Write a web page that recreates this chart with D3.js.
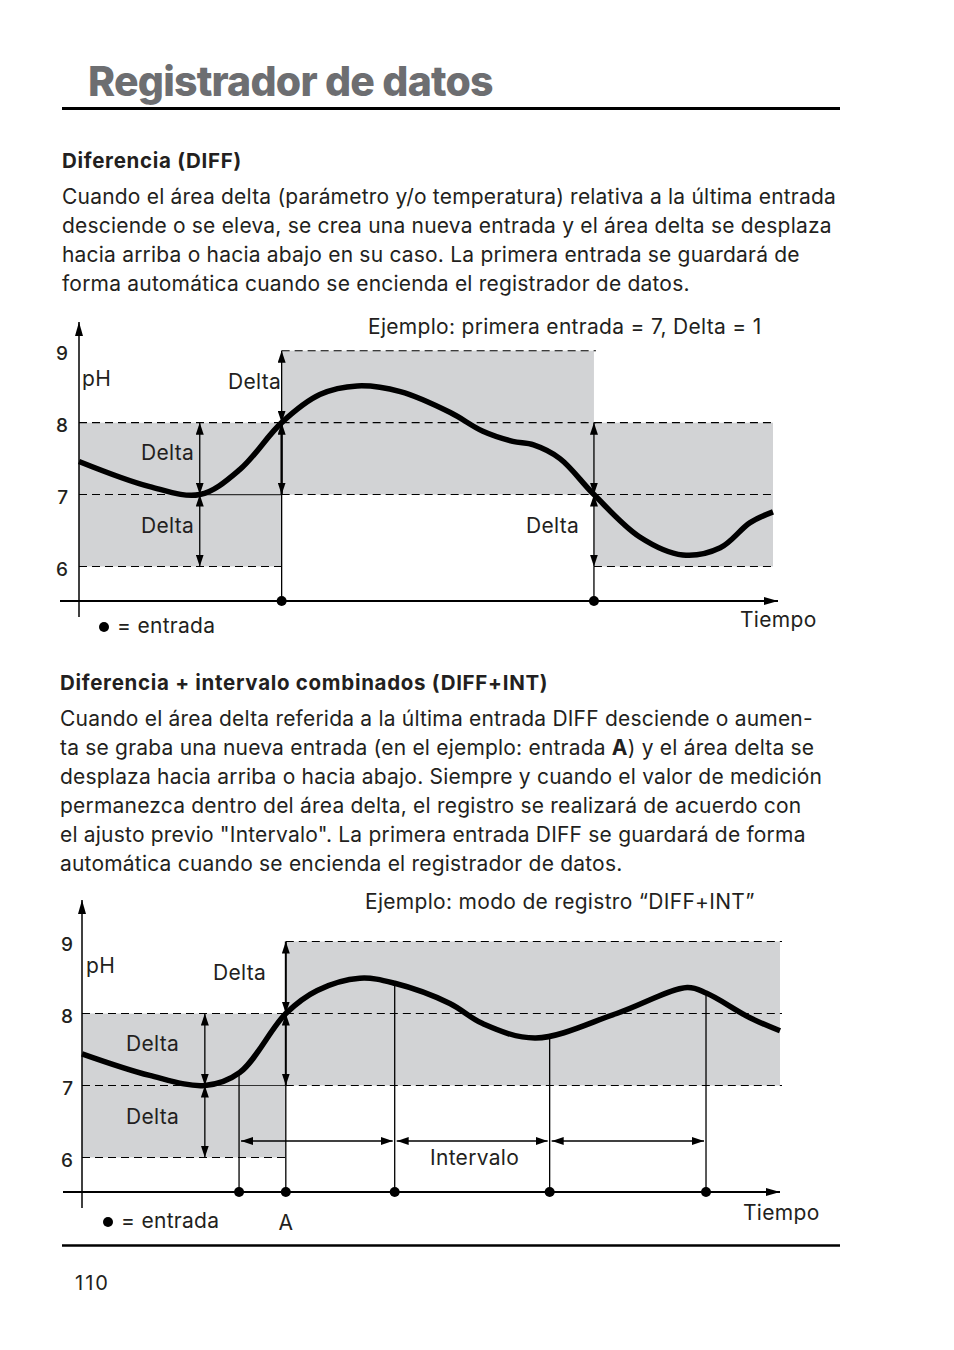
<!DOCTYPE html>
<html>
<head>
<meta charset="utf-8">
<script src="https://cdn.jsdelivr.net/npm/d3@7"></script>
<style>
  body { margin: 0; background: #fff; }
  svg text { font-family: Inter, "Open Sans", sans-serif; fill: #231f20; }
</style>
</head>
<body>
<svg id="page" width="954" height="1350"></svg>
<script>
// ---------- data ----------
const title = "Registrador de datos";
const heading1 = "Diferencia (DIFF)";
const para1 = [
  "Cuando el área delta (parámetro y/o temperatura) relativa a la última entrada",
  "desciende o se eleva, se crea una nueva entrada y el área delta se desplaza",
  "hacia arriba o hacia abajo en su caso.  La primera entrada se guardará de",
  "forma automática cuando se encienda el registrador de datos."
];
const heading2 = "Diferencia + intervalo combinados (DIFF+INT)";
const para2 = [
  "Cuando el área delta referida a la última entrada DIFF desciende o aumen-",
  "ta se graba una nueva entrada (en el ejemplo: entrada **A**) y el área delta se",
  "desplaza hacia arriba o hacia abajo. Siempre y cuando el valor de medición",
  "permanezca dentro del área delta, el registro se realizará de acuerdo con",
  "el ajusto previo \"Intervalo\". La primera entrada DIFF se guardará de forma",
  "automática cuando se encienda el registrador de datos."
];
const pageNumber = "110";

const phTicks = [6, 7, 8, 9];
const delta = 1;

// chart 1 (DIFF): time 0..100, pH
const curve1 = [[0,7.46],[10.2,7.11],[17.4,7.0],[23.2,7.35],[29.2,8.0],[34.7,8.39],[40.1,8.51],
  [46.3,8.43],[53.5,8.14],[58.2,7.88],[62.5,7.74],[65.5,7.69],[69.3,7.5],[74.2,7.0],[80.8,6.41],
  [87,6.16],[92.4,6.26],[96.7,6.61],[100,6.76]];
const bands1 = [{from:0, to:29.2, center:7}, {from:29.2, to:74.2, center:8}, {from:74.2, to:100, center:7}];
const entries1 = [29.2, 74.2];
const refMark1 = 17.4;   // first entry = 7
const caption1 = "Ejemplo: primera entrada = 7, Delta = 1";

// chart 2 (DIFF+INT)
const curve2 = [[0,7.44],[9.7,7.14],[17.6,7.0],[22.6,7.18],[29.2,8.0],[33.7,8.32],[39.8,8.49],
  [44.8,8.42],[52.7,8.14],[57.4,7.86],[65,7.66],[76.6,8.0],[86.7,8.36],[89.5,8.28],
  [95.7,7.94],[100,7.76]];
const bands2 = [{from:0, to:29.2, center:7}, {from:29.2, to:100, center:8}];
const entries2 = [22.5, 29.2, 44.8, 67.0, 89.4];
const entryPh2 = [7.18, null, 8.42, 7.67, 8.28];
const intervals2 = [[22.5,44.8],[44.8,67.0],[67.0,89.4]];
const refMark2 = 17.6;
const entryA = 29.2;
const caption2 = "Ejemplo: modo de registro \u201cDIFF+INT\u201d";

// ---------- page ----------
const svg = d3.select('#page');
const defs = svg.append('defs');
defs.append('marker').attr('id','arr')
  .attr('viewBox','0 0 12 8').attr('refX',12).attr('refY',4)
  .attr('markerWidth',12).attr('markerHeight',8).attr('markerUnits','userSpaceOnUse')
  .attr('orient','auto-start-reverse')
  .append('path').attr('d','M0,0L12,4L0,8Z').attr('fill','#000');
defs.append('marker').attr('id','axarr')
  .attr('viewBox','0 0 14 8').attr('refX',14).attr('refY',4)
  .attr('markerWidth',14).attr('markerHeight',8).attr('markerUnits','userSpaceOnUse')
  .attr('orient','auto')
  .append('path').attr('d','M0,0L14,4L0,8Z').attr('fill','#000');

svg.append('text').attr('x',88).attr('y',96)
  .attr('font-size',41).attr('font-weight',800).attr('letter-spacing',-0.8)
  .style('fill','#6d6e71').text(title);
svg.append('line').attr('x1',62).attr('x2',840).attr('y1',108.5).attr('y2',108.5)
  .attr('stroke','#000').attr('stroke-width',3);

function block(x, y0, head, lines) {
  svg.append('text').attr('x',x).attr('y',y0).attr('font-size',20.5).attr('font-weight',700)
    .attr('letter-spacing',0.7).text(head);
  const t = svg.append('g').selectAll('text').data(lines).join('text')
    .attr('x',x).attr('y',(d,i)=>y0+36+i*29).attr('font-size',21).attr('letter-spacing',0.2);
  t.each(function(d) {
    const el = d3.select(this);
    d.split(/(\*\*.+?\*\*)/).forEach(part => {
      if (!part) return;
      const b = part.startsWith('**');
      el.append('tspan').attr('font-weight', b ? 700 : 400).text(b ? part.slice(2,-2) : part);
    });
  });
}
block(62, 168, heading1, para1);
block(60, 690, heading2, para2);

svg.append('line').attr('x1',62).attr('x2',840).attr('y1',1245.5).attr('y2',1245.5)
  .attr('stroke','#000').attr('stroke-width',2.5);
svg.append('text').attr('x',75).attr('y',1290).attr('font-size',20).attr('letter-spacing',2).text(pageNumber);

// ---------- charts ----------
function chart(cfg) {
  const x = d3.scaleLinear().domain([0,100]).range(cfg.xr);
  const y = d3.scaleLinear().domain([6,9]).range(cfg.yr);
  const g = svg.append('g');

  // delta areas
  g.selectAll('rect.band').data(cfg.bands).join('rect').attr('class','band')
    .attr('x',d=>x(d.from)).attr('width',d=>x(d.to)-x(d.from))
    .attr('y',d=>y(d.center+delta)).attr('height',d=>y(d.center-delta)-y(d.center+delta))
    .attr('fill','#d2d3d5');

  const dashes = cfg.bands.flatMap(b => [b.center+delta, b.center, b.center-delta]
    .map(v => ({from:b.from, to:b.to, v})));
  g.selectAll('line.dash').data(dashes).join('line').attr('class','dash')
    .attr('x1',d=>x(d.from)).attr('x2',d=>x(d.to)+2)
    .attr('y1',d=>y(d.v)).attr('y2',d=>y(d.v))
    .attr('stroke','#000').attr('stroke-width',1.1).attr('stroke-dasharray','8,5');

  // reference line from first entry to the new entry
  g.append('line').attr('x1',x(cfg.ref)).attr('x2',x(cfg.bands[1].from))
    .attr('y1',y(cfg.bands[0].center)).attr('y2',y(cfg.bands[0].center))
    .attr('stroke','#333').attr('stroke-width',1.2);

  // vertical entry lines
  const shifts = cfg.bands.slice(1).map(b => b.from);
  shifts.forEach(t => {
    const b = cfg.bands.find(d => d.from === t);
    g.append('line').attr('x1',x(t)).attr('x2',x(t))
      .attr('y1',cfg.axisY).attr('y2',y(b.center-delta))
      .attr('stroke','#000').attr('stroke-width',1.3);
  });
  (cfg.entryPh || []).forEach((p,i) => {
    if (p == null) return;
    const t = cfg.entries[i];
    g.append('line').attr('x1',x(t)).attr('x2',x(t))
      .attr('y1',cfg.axisY).attr('y2',y(p))
      .attr('stroke','#000').attr('stroke-width',1.3);
  });

  // measurement curve
  g.append('path').datum(cfg.curve)
    .attr('d', d3.line().x(d=>x(d[0])).y(d=>y(d[1])).curve(d3.curveCatmullRom.alpha(0.5)))
    .attr('fill','none').attr('stroke','#000').attr('stroke-width',5.5);

  // delta arrows: at the reference mark and at each shift
  const arrows = [{t:cfg.ref, a:cfg.bands[0].center+delta, b:cfg.bands[0].center},
                  {t:cfg.ref, a:cfg.bands[0].center, b:cfg.bands[0].center-delta}];
  shifts.forEach((t,i) => {
    const b = cfg.bands[i+1];
    arrows.push({t, a:b.center+delta, b:b.center, w: cfg.wUp[i]});
    arrows.push({t, a:b.center, b:b.center-delta, w: cfg.wDn[i]});
  });
  g.selectAll('line.arr').data(arrows).join('line').attr('class','arr')
    .attr('x1',d=>x(d.t)).attr('x2',d=>x(d.t))
    .attr('y1',d=>y(d.a)).attr('y2',d=>y(d.b))
    .attr('stroke','#000').attr('stroke-width',d=>d.w || 1.3)
    .attr('marker-start','url(#arr)').attr('marker-end','url(#arr)');

  // interval arrows
  g.selectAll('line.iv').data(cfg.intervals || []).join('line').attr('class','iv')
    .attr('x1',d=>x(d[0])+2).attr('x2',d=>x(d[1])-2)
    .attr('y1',cfg.ivY).attr('y2',cfg.ivY)
    .attr('stroke','#000').attr('stroke-width',1.3)
    .attr('marker-start','url(#arr)').attr('marker-end','url(#arr)');

  // axes
  const y0 = cfg.xr[0];
  g.append('line').attr('x1',y0).attr('x2',y0).attr('y1',cfg.axisY+16).attr('y2',cfg.yTop)
    .attr('stroke','#000').attr('stroke-width',1.5).attr('marker-end','url(#axarr)');
  g.append('line').attr('x1',y0-19).attr('x2',cfg.xr[1]+cfg.xEnd).attr('y1',cfg.axisY).attr('y2',cfg.axisY)
    .attr('stroke','#000').attr('stroke-width',2).attr('marker-end','url(#axarr)');
  const ax = g.append('g').attr('transform',`translate(${y0},0)`)
    .call(d3.axisLeft(y).tickValues(phTicks).tickSize(0).tickPadding(cfg.tickPad).tickFormat(d3.format('d')));
  ax.select('.domain').remove();
  ax.selectAll('text').attr('font-size',19).attr('font-weight',500)
    .attr('font-family','Inter, sans-serif').attr('fill','#231f20').attr('dy','0.45em');

  // entry dots
  g.selectAll('circle.e').data(cfg.entries).join('circle').attr('class','e')
    .attr('cx',d=>x(d)).attr('cy',cfg.axisY).attr('r',5).attr('fill','#000');

  // labels
  const T = (px,py,s,anchor) => g.append('text').attr('x',px).attr('y',py)
    .attr('font-size',21).attr('letter-spacing',0.3).attr('text-anchor',anchor||'start').text(s);
  T(cfg.pH[0], cfg.pH[1], 'pH');
  T(cfg.cap[0], cfg.cap[1], cfg.caption);
  T(cfg.tiempo[0], cfg.tiempo[1], 'Tiempo');
  g.append('circle').attr('cx',cfg.leg[0]).attr('cy',cfg.leg[1]-6).attr('r',5).attr('fill','#000');
  T(cfg.leg[0]+13, cfg.leg[1], '= entrada');
  cfg.deltas.forEach(d => T(d[0], d[1], 'Delta', 'end'));
  return {g, x, y, T};
}

chart({
  xr:[79,773], yr:[566.5,350.7], axisY:601, yTop:322, xEnd:5, tickPad:11,
  curve:curve1, bands:bands1, entries:entries1, ref:refMark1,
  wUp:[1.3,1.3], wDn:[2.4,1.3],
  caption:caption1, cap:[368,334], pH:[82,386], tiempo:[740,627], leg:[104,633],
  deltas:[[194,460],[194,533],[281,389],[579,533]]
});
const c2 = chart({
  xr:[82,780], yr:[1157.5,941.5], axisY:1192, yTop:900, xEnd:0, tickPad:9,
  curve:curve2, bands:bands2, entries:entries2, entryPh:entryPh2, ref:refMark2,
  intervals:intervals2, ivY:1141,
  wUp:[2], wDn:[2],
  caption:caption2, cap:[365,909], pH:[86,973], tiempo:[743,1220], leg:[108,1228],
  deltas:[[266,980],[179,1051],[179,1124]]
});
c2.T(c2.x(entryA), 1230, 'A', 'middle');
c2.T(430, 1165, 'Intervalo');
</script>
</body>
</html>
